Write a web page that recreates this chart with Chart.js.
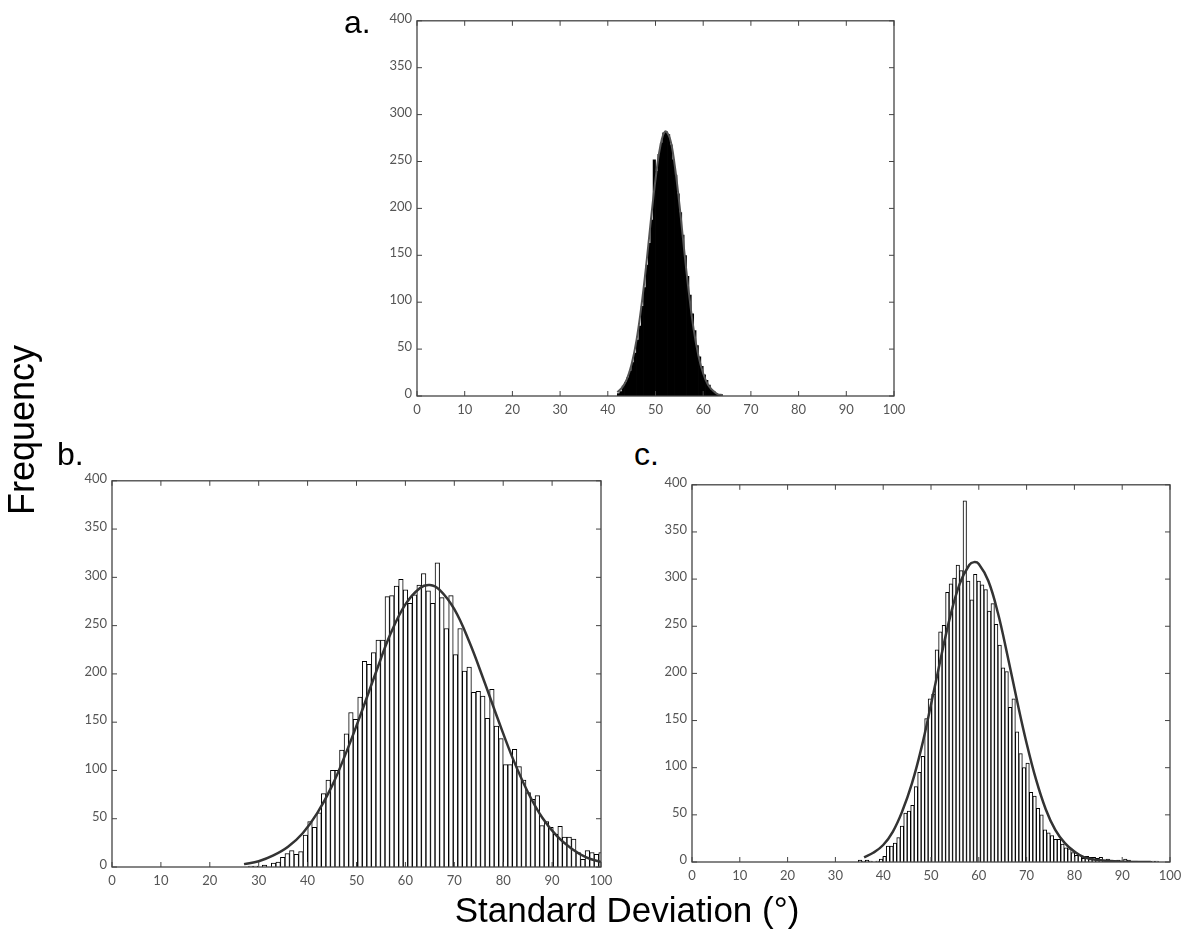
<!DOCTYPE html>
<html>
<head>
<meta charset="utf-8">
<script src="https://cdn.jsdelivr.net/npm/chart.js@4.4.0/dist/chart.umd.min.js"></script>
<style>
html, body { margin: 0; padding: 0; background: #fff; }
body { width: 1188px; height: 941px; position: relative; overflow: hidden; font-family: "Liberation Sans", Arial, sans-serif; }
.panel { position: absolute; }
.lbl { position: absolute; line-height: 1; color: #000; white-space: nowrap; z-index: 5; }
</style>
</head>
<body>
<div class="panel" id="boxA"><canvas id="chartA"></canvas></div>
<div class="panel" id="boxB"><canvas id="chartB"></canvas></div>
<div class="panel" id="boxC"><canvas id="chartC"></canvas></div>

<div class="lbl" style="left:344px; top:6px; font-size:32px;">a.</div>
<div class="lbl" style="left:57px; top:438px; font-size:32px;">b.</div>
<div class="lbl" style="left:634px; top:438px; font-size:32px;">c.</div>
<div class="lbl" style="left:22px; top:430px; font-size:36px; transform: translate(-50%, -50%) rotate(-90deg);">Frequency</div>
<div class="lbl" style="left:627px; top:892px; font-size:35px; transform: translateX(-50%);">Standard Deviation (°)</div>

<script>
// tick labels
const xTicks = [0, 10, 20, 30, 40, 50, 60, 70, 80, 90, 100];
const yTicks = [0, 50, 100, 150, 200, 250, 300, 350, 400];

// panel a: histogram bins (start, width) and counts
const binStartA = 42;
const binWidthA = 0.5;
const countsA = [3, 5, 11, 15, 20, 27, 36, 46, 60, 75, 96, 116, 140, 163, 188, 252, 240, 258, 270, 281,
  282, 279, 268, 252, 236, 216, 196, 172, 150, 128, 108, 88, 70, 54, 42, 32, 23, 17, 12, 7, 5, 3, 2, 2];
const fitAX = [42, 43, 44, 45, 46, 47, 48, 49, 50, 51, 52, 53, 54, 55, 56, 57, 58, 59, 60, 61, 62, 63, 64];
const fitAY = [4, 9, 18, 34, 59, 94, 137, 186, 231, 266, 282, 275, 247, 205, 156, 110, 71, 43, 24, 12, 6, 2, 1];

// panel b
const binStartB = 27;
const binWidthB = 0.93;
const countsB = [0, 1, 1, 0, 2, 0, 4, 5, 10, 14, 17, 13, 16, 33, 47, 41, 56, 76, 90, 100,
  100, 121, 138, 160, 153, 176, 213, 210, 222, 235, 235, 280, 281, 291, 298, 287, 273, 282, 292, 304,
  286, 273, 315, 279, 247, 281, 220, 247, 203, 207, 181, 182, 177, 154, 184, 146, 133, 106, 106, 122,
  104, 90, 77, 70, 74, 43, 47, 41, 34, 42, 31, 31, 29, 15, 8, 17, 15, 13, 15];
const fitBX = [27, 30, 33, 36, 39, 42, 45, 48, 51, 54, 57, 60, 63, 65, 67, 70, 73, 76, 79, 82, 85, 88, 91, 94, 97, 100];
const fitBY = [3, 6, 12, 21, 35, 56, 84, 120, 160, 202, 242, 272, 289, 292, 287, 267, 234, 194, 152, 112, 78, 51, 32, 19, 10, 5];

// panel c
const binStartC = 34.8;
const binWidthC = 0.73;
const countsC = [2, 1, 2, 1, 0, 1, 3, 6, 17, 17, 20, 26, 38, 52, 54, 60, 80, 95, 112, 152,
  173, 178, 225, 244, 251, 286, 295, 301, 315, 309, 383, 298, 278, 305, 298, 294, 289, 266, 274, 252,
  230, 206, 202, 164, 173, 138, 115, 100, 105, 74, 70, 57, 50, 34, 31, 28, 24, 24, 19, 15,
  14, 10, 7, 7, 4, 6, 5, 5, 4, 5, 2, 3, 2, 1, 2, 1, 3, 2, 1, 1, 0, 0, 0, 0, 1, 1];
const fitCX = [36, 38, 40, 42, 44, 46, 48, 50, 52, 54, 56, 58, 59, 60, 62, 64, 66, 68, 70, 72, 74, 76, 78, 80, 82, 85, 90, 96];
const fitCY = [5, 10, 18, 32, 54, 83, 121, 167, 215, 260, 295, 315, 318, 316, 298, 264, 219, 171, 126, 87, 56, 34, 20, 11, 5, 2, 0.3, 0];

// box with inward ticks on all four sides
const framePlugin = {
  id: 'frame',
  afterDatasetsDraw(chart) {
    const { ctx, chartArea: a } = chart;
    const x = chart.scales.x, y = chart.scales.y;
    ctx.save();
    ctx.strokeStyle = '#444';
    ctx.lineWidth = 1.3;
    ctx.strokeRect(a.left, a.top, a.right - a.left, a.bottom - a.top);
    ctx.lineWidth = 1;
    ctx.beginPath();
    xTicks.forEach(v => {
      const px = x.getPixelForValue(v);
      ctx.moveTo(px, a.bottom); ctx.lineTo(px, a.bottom - 5);
      ctx.moveTo(px, a.top); ctx.lineTo(px, a.top + 5);
    });
    yTicks.forEach(v => {
      const py = y.getPixelForValue(v);
      ctx.moveTo(a.left, py); ctx.lineTo(a.left + 5, py);
      ctx.moveTo(a.right, py); ctx.lineTo(a.right - 5, py);
    });
    ctx.stroke();
    ctx.restore();
  }
};

const padL = 50, padT = 12, padR = 24, padB = 32;
const tickFont = { family: 'Lato, "Open Sans", sans-serif', size: 13 };

function makePanel(id, area, binStart, binWidth, counts, fitX, fitY, barStyle, fitColor, fitWidth) {
  const canvas = document.getElementById(id);
  const box = canvas.parentNode;
  const w = area.right - area.left + padL + padR;
  const h = area.bottom - area.top + padT + padB;
  box.style.left = (area.left - padL) + 'px';
  box.style.top = (area.top - padT) + 'px';
  canvas.width = w; canvas.height = h;
  canvas.style.width = w + 'px'; canvas.style.height = h + 'px';

  const bars = counts.map((c, i) => ({ x: binStart + (i + 0.5) * binWidth, y: c }));
  const fit = fitX.map((v, i) => ({ x: v, y: fitY[i] }));

  return new Chart(canvas.getContext('2d'), {
    type: 'bar',
    data: {
      datasets: [
        {
          type: 'line',
          data: fit,
          borderColor: fitColor,
          borderWidth: fitWidth,
          pointRadius: 0,
          tension: 0.4,
          fill: false,
          clip: 0,
          order: 1
        },
        Object.assign({
          type: 'bar',
          data: bars,
          borderColor: '#000',
          categoryPercentage: 1,
          clip: 0,
          order: 2
        }, barStyle)
      ]
    },
    options: {
      responsive: false,
      animation: false,
      events: [],
      layout: { padding: { left: 0, top: padT, right: padR, bottom: 0 } },
      plugins: { legend: { display: false }, tooltip: { enabled: false } },
      scales: {
        x: {
          type: 'linear', min: 0, max: 100, offset: false,
          grid: { display: false, drawTicks: false, offset: false },
          border: { display: false },
          ticks: { stepSize: 10, autoSkip: false, maxRotation: 0, padding: 6, color: '#555', font: tickFont },
          afterFit: s => { s.height = padB; }
        },
        y: {
          min: 0, max: 400,
          grid: { display: false, drawTicks: false },
          border: { display: false },
          ticks: { stepSize: 50, padding: 5, labelOffset: -2, color: '#555', font: tickFont },
          afterFit: s => { s.width = padL; }
        }
      }
    },
    plugins: [framePlugin]
  });
}

const solidBars = { backgroundColor: '#000', borderWidth: 0, barPercentage: 1.3 };
const outlineBars = { backgroundColor: '#fff', borderWidth: 1, barPercentage: 1 };

makePanel('chartA', { left: 417, top: 20, right: 894, bottom: 396 }, binStartA, binWidthA, countsA, fitAX, fitAY, solidBars, '#555', 2);
makePanel('chartB', { left: 112, top: 480, right: 601, bottom: 867 }, binStartB, binWidthB, countsB, fitBX, fitBY, outlineBars, '#333', 2.5);
makePanel('chartC', { left: 692, top: 484, right: 1170, bottom: 862 }, binStartC, binWidthC, countsC, fitCX, fitCY, outlineBars, '#333', 2.5);
</script>
</body>
</html>
